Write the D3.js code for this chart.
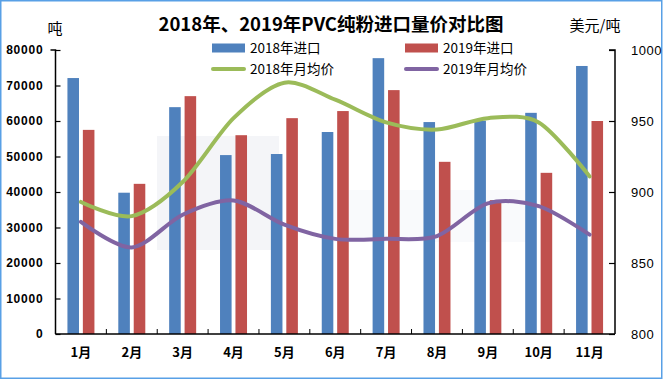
<!DOCTYPE html>
<html><head><meta charset="utf-8">
<script src="https://cdn.jsdelivr.net/npm/d3@7/dist/d3.min.js"></script>
<style>
html,body{margin:0;padding:0;background:#fff;}
svg{display:block;}
text{font-family:"Liberation Sans","Noto Sans CJK SC",sans-serif;}
.cjk{font-family:"Noto Sans CJK SC","Liberation Sans",sans-serif;}
</style></head>
<body>
<script>
const months = ["1月","2月","3月","4月","5月","6月","7月","8月","9月","10月","11月"];
const import2018 = [72100,39800,63900,50400,50700,56900,77700,59700,60100,62300,75500];
const import2019 = [57500,42300,67000,56000,60800,62800,68700,48500,37700,45400,60000];
const price2018 = [893,883,907,952,977,965,949,944,952,949,911];
const price2019 = [879,861,884,894,877,867,867,869,892,890,870];
const leftTicks = [0,10000,20000,30000,40000,50000,60000,70000,80000];
const rightTicks = [800,850,900,950,1000];
const seriesNames = ["2018年进口","2019年进口","2018年月均价","2019年月均价"];
const colors = ["#4F81BD","#C0504D","#9BBB59","#8064A2"];
const titleText = "2018年、2019年PVC纯粉进口量价对比图";

const W = 663, H = 380;
const L = 55.5, R = 615, T = 50, B = 334;
const svg = d3.select("body").append("svg").attr("width", W).attr("height", H);

svg.append("rect").attr("x",0.75).attr("y",0.75).attr("width",W-2).attr("height",H-2.5)
  .attr("fill","#fff").attr("stroke","#58a0e6").attr("stroke-width",1.5);

// faint watermark block
svg.append("rect").attr("x",157).attr("y",136).attr("width",122).attr("height",114).attr("fill","#f4f5f8");
svg.append("rect").attr("x",330).attr("y",190).attr("width",197).attr("height",52).attr("fill","#f9fafc");

const x = d3.scaleBand().domain(months).range([L, R]).padding(0);
const yL = d3.scaleLinear().domain([0,80000]).range([B, T]);
const yR = d3.scaleLinear().domain([800,1000]).range([B, T]);
const x1 = d3.scaleBand().domain([0,1]).range([-13.5,13.5]).paddingInner(0.25).paddingOuter(0);

// bars
[import2018, import2019].forEach((arr, si) => {
  svg.append("g").selectAll("rect").data(arr).join("rect")
    .attr("x", (d,i) => x(months[i]) + x.bandwidth()/2 + x1(si))
    .attr("width", x1.bandwidth())
    .attr("y", d => yL(d))
    .attr("height", d => B - yL(d))
    .attr("fill", colors[si]);
});

// lines
const line = d3.line()
  .x((d,i) => x(months[i]) + x.bandwidth()/2)
  .y(d => yR(d))
  .curve(d3.curveCardinal.tension(0.1));
[price2018, price2019].forEach((arr, si) => {
  svg.append("path").attr("d", line(arr)).attr("fill","none")
    .attr("stroke", colors[2+si]).attr("stroke-width",4).attr("stroke-linecap","round");
});

// axes
const axL = d3.axisLeft(yL).tickValues(leftTicks).tickSize(-5).tickPadding(12).tickFormat(d3.format("d"));
const gL = svg.append("g").attr("transform",`translate(${L},0)`).call(axL);
const axR = d3.axisRight(yR).tickValues(rightTicks).tickSize(-6).tickPadding(16).tickFormat(d3.format("d"));
const gR = svg.append("g").attr("transform",`translate(${R},0)`).call(axR);
const axB = d3.axisBottom(x).tickSize(0).tickPadding(14);
const gB = svg.append("g").attr("transform",`translate(0,${B})`).call(axB);
// category boundary ticks pointing up
svg.append("g").selectAll("line").data(months.slice(1)).join("line")
  .attr("x1", d => x(d)).attr("x2", d => x(d)).attr("y1", B).attr("y2", B-5)
  .attr("stroke","#000").attr("stroke-width",1);

[gL,gR,gB].forEach(g => {
  g.select(".domain").attr("stroke","#000").attr("stroke-width",1.5);
  g.selectAll(".tick line").attr("stroke","#000").attr("stroke-width",1.2);
  g.selectAll(".tick text").attr("fill","#000").style("font-size","12px");
});
gL.select(".domain").attr("d", `M-5,${T}H0V${B}`);
gR.select(".domain").attr("d", `M-6,${T}H0V${B}`);
gB.select(".domain").attr("d", `M${L},0H${R}`);
gL.selectAll(".tick text").style("font-weight","bold").style("letter-spacing","0.8px");
gR.selectAll(".tick text").style("font-size","13px").style("letter-spacing","0.5px");
gB.selectAll(".tick text").attr("class","cjk").style("font-size","13px").style("font-weight","600");

// title and unit labels
svg.append("text").attr("class","cjk").attr("x",331).attr("y",31).attr("text-anchor","middle")
  .style("font-size","18.5px").style("font-weight","bold").text(titleText);
svg.append("text").attr("class","cjk").attr("x",55).attr("y",34).attr("text-anchor","middle")
  .style("font-size","15px").text("吨");
svg.append("text").attr("class","cjk").attr("x",595).attr("y",31).attr("text-anchor","middle")
  .style("font-size","15px").text("美元/吨");

// legend
const leg = [
  {i:0, x:212, y:48, type:"rect"},
  {i:1, x:405, y:48, type:"rect"},
  {i:2, x:212, y:69, type:"line"},
  {i:3, x:405, y:69, type:"line"}
];
leg.forEach(l => {
  if (l.type === "rect") {
    svg.append("rect").attr("x",l.x).attr("y",l.y-4.5).attr("width",33).attr("height",9).attr("fill",colors[l.i]);
  } else {
    svg.append("line").attr("x1",l.x+1).attr("x2",l.x+32).attr("y1",l.y).attr("y2",l.y)
      .attr("stroke",colors[l.i]).attr("stroke-width",4).attr("stroke-linecap","round");
  }
  svg.append("text").attr("class","cjk").attr("x",l.x+38).attr("y",l.y+5)
    .style("font-size","13.5px").text(seriesNames[l.i]);
});
</script>
</body></html>
